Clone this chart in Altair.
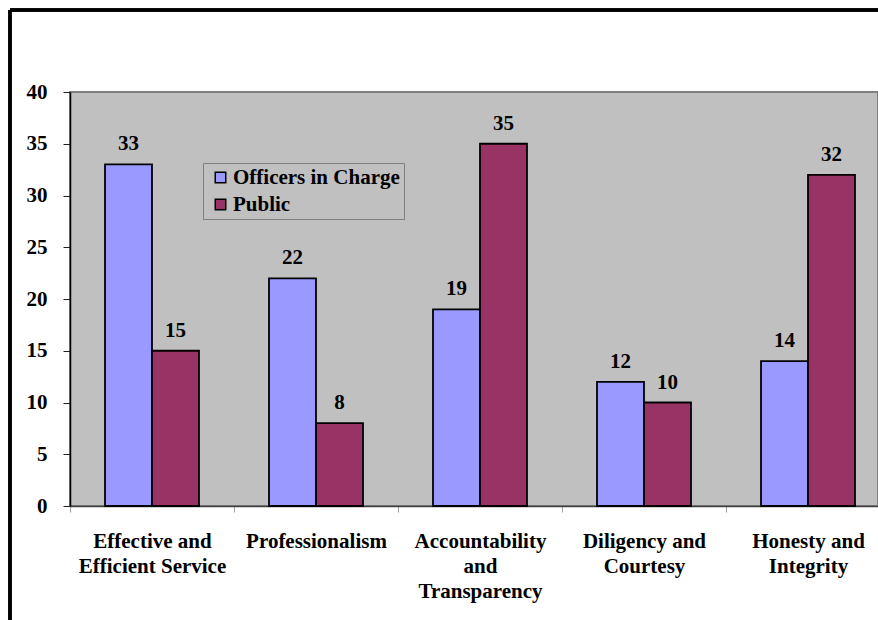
import altair as alt
import pandas as pd

categories = [
    "Effective and|Efficient Service",
    "Professionalism",
    "Accountability|and|Transparency",
    "Diligency and|Courtesy",
    "Honesty and|Integrity",
]
series_names = ["Officers in Charge", "Public"]
officers = [33, 22, 19, 12, 14]
public = [15, 8, 35, 10, 32]
y_ticks = [0, 5, 10, 15, 20, 25, 30, 35, 40]

rows = []
for c, o, p in zip(categories, officers, public):
    rows.append({"cat": c, "series": series_names[0], "value": o})
    rows.append({"cat": c, "series": series_names[1], "value": p})
df = pd.DataFrame(rows)

FONT = "Liberation Serif"
FS = 21

x_enc = alt.X(
    "cat:N",
    sort=categories,
    title=None,
    scale=alt.Scale(domain=categories, range=[0, 820], paddingInner=0, paddingOuter=0),
    axis=alt.Axis(
        labelExpr="split(datum.label, '|')",
        labelAngle=0,
        labelFont=FONT,
        labelFontSize=FS,
        labelFontWeight="bold",
        labelColor="black",
        labelLineHeight=25,
        labelPadding=18,
        labelBaseline="top",
        labelLimit=300,
        tickBand="extent",
        tickColor="#a0a0a0",
        tickSize=6,
        domainColor="#404040",
        domainWidth=1.5,
    ),
)
xoff = alt.XOffset(
    "series:N",
    sort=series_names,
    scale=alt.Scale(domain=series_names, paddingInner=0, paddingOuter=0.745),
)
y_enc = alt.Y(
    "value:Q",
    title=None,
    scale=alt.Scale(domain=[0, 40], nice=False),
    axis=alt.Axis(
        values=y_ticks,
        grid=False,
        labelFont=FONT,
        labelFontSize=FS,
        labelFontWeight="bold",
        labelColor="black",
        labelPadding=16,
        tickColor="#202020",
        tickSize=7,
        domainColor="black",
        domainWidth=1.5,
    ),
)

bars = alt.Chart(df).mark_bar(stroke="black", strokeWidth=1.8).encode(
    x=x_enc,
    xOffset=xoff,
    y=y_enc,
    color=alt.Color(
        "series:N",
        sort=series_names,
        scale=alt.Scale(domain=series_names, range=["#9999FF", "#993366"]),
        legend=alt.Legend(
            title=None,
            orient="none",
            legendX=133,
            legendY=71,
            labelFont=FONT,
            labelFontSize=FS,
            labelFontWeight="bold",
            labelColor="black",
            labelLimit=400,
            symbolType="square",
            symbolSize=110,
            symbolStrokeColor="black",
            symbolStrokeWidth=1.5,
            symbolOffset=3,
            labelOffset=2,
            rowPadding=5,
            padding=4,
            strokeColor="#808080",
            fillColor="#C0C0C0",
        ),
    ),
)

labels = alt.Chart(df).mark_text(
    font=FONT, fontSize=FS, fontWeight="bold", color="black",
    baseline="alphabetic", dy=-14,
).encode(
    x=alt.X("cat:N", sort=categories),
    xOffset=alt.XOffset("series:N", sort=series_names),
    y="value:Q",
    text="value:Q",
)

frame_left = alt.Chart(df).mark_rule(color="black", strokeWidth=2.5).encode(
    x=alt.value(-60), y=alt.value(-82), y2=alt.value(540)
)
frame_top = alt.Chart(df).mark_rule(color="black", strokeWidth=2.5).encode(
    x=alt.value(-60), x2=alt.value(820), y=alt.value(-82)
)

chart = alt.layer(bars, labels, frame_left, frame_top).properties(
    width=808,
    height=414,
    background="white",
    autosize=alt.AutoSizeParams(type="none"),
    padding={"left": 70, "top": 92, "right": 0, "bottom": 114},
).configure_view(
    fill="#C0C0C0", stroke="#808080", strokeWidth=2
)

chart.save("out.html", embed_options={"renderer": "svg", "actions": False})
